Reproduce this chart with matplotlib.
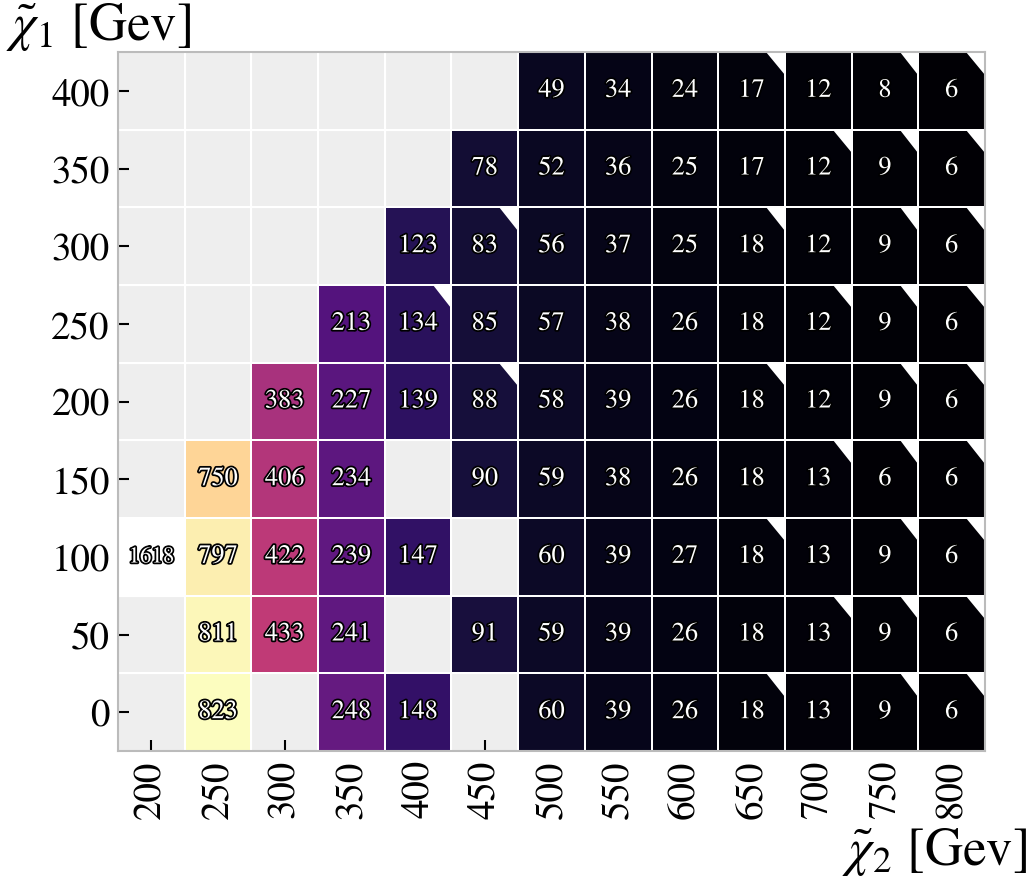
import matplotlib

matplotlib.use("Agg")
import matplotlib.pyplot as plt
import matplotlib.patheffects as pe
import numpy as np
from matplotlib.patches import Polygon

plt.rcParams["font.family"] = ["STIXGeneral", "DejaVu Serif"]
plt.rcParams["mathtext.fontset"] = "stix"

# masses (GeV)
chi2_masses = [200, 250, 300, 350, 400, 450, 500, 550, 600, 650, 700, 750, 800]
chi1_masses = [0, 50, 100, 150, 200, 250, 300, 350, 400]

N = None
# event counts, one row per chi1 mass (bottom -> top), None = no point
counts = [
    [N, 823, N, 248, 148, N, 60, 39, 26, 18, 13, 9, 6],
    [N, 811, 433, 241, N, 91, 59, 39, 26, 18, 13, 9, 6],
    [1618, 797, 422, 239, 147, N, 60, 39, 27, 18, 13, 9, 6],
    [N, 750, 406, 234, N, 90, 59, 38, 26, 18, 13, 6, 6],
    [N, N, 383, 227, 139, 88, 58, 39, 26, 18, 12, 9, 6],
    [N, N, N, 213, 134, 85, 57, 38, 26, 18, 12, 9, 6],
    [N, N, N, N, 123, 83, 56, 37, 25, 18, 12, 9, 6],
    [N, N, N, N, N, 78, 52, 36, 25, 17, 12, 9, 6],
    [N, N, N, N, N, N, 49, 34, 24, 17, 12, 8, 6],
]

# cells marked with the white corner (chi1 -> list of chi2)
flagged = {
    0: [650, 750, 800],
    50: [700, 750, 800],
    100: [650, 750, 800],
    150: [700, 750, 800],
    200: [450, 650, 750, 800],
    250: [400, 700, 750, 800],
    300: [450, 650, 750, 800],
    350: [700, 750, 800],
    400: [650, 750, 800],
}

grid = np.array([[np.nan if v is None else v for v in row] for row in counts], dtype=float)
n_rows, n_cols = grid.shape

cmap = plt.get_cmap("magma").copy()
cmap.set_over("white")
cmap.set_bad((0, 0, 0, 0))

fig = plt.figure(figsize=(10.35, 8.79), dpi=100)
ax = fig.add_axes((118 / 1035, 1 - 752 / 879, 867 / 1035, 699 / 879))
ax.set_facecolor("#eeeeee")

xe = np.arange(n_cols + 1) - 0.5
ye = np.arange(n_rows + 1) - 0.5
ax.pcolormesh(xe, ye, np.ma.masked_invalid(grid), cmap=cmap, vmin=0, vmax=823,
              edgecolors="white", linewidth=1.2, zorder=2)

# faint grid on empty cells
for x in xe[1:-1]:
    ax.axvline(x, color="white", lw=1.0, alpha=0.6, zorder=1)
for y in ye[1:-1]:
    ax.axhline(y, color="white", lw=1.0, alpha=0.6, zorder=1)

# white corner triangles
a, b = 0.28, 0.30
for i, m1 in enumerate(chi1_masses):
    for m2 in flagged.get(m1, []):
        j = chi2_masses.index(m2)
        xr, yt = j + 0.5, i + 0.5
        ax.add_patch(Polygon([(xr - a, yt), (xr, yt), (xr, yt - b)], closed=True,
                             facecolor="white", edgecolor="none", zorder=3))

stroke = [pe.withStroke(linewidth=2.5, foreground="black")]
for i in range(n_rows):
    for j in range(n_cols):
        v = grid[i, j]
        if np.isnan(v):
            continue
        fs = 16.5 if v >= 1000 else 19
        ax.text(j, i, f"{int(v)}", ha="center", va="center", fontsize=fs,
                color="white", path_effects=stroke, zorder=4)

ax.set_xlim(-0.5, n_cols - 0.5)
ax.set_ylim(-0.5, n_rows - 0.5)
ax.set_xticks(range(n_cols))
ax.set_xticklabels([str(m) for m in chi2_masses], rotation=90, fontsize=28)
ax.set_yticks(range(n_rows))
ax.set_yticklabels([str(m) for m in chi1_masses], fontsize=28)
ax.tick_params(direction="in", length=8, width=1.5, color="black", pad=6)
for s in ax.spines.values():
    s.set_color("#bbbbbb")
    s.set_linewidth(1.5)
    s.set_zorder(5)

fig.text(6 / 1035, 1 - 1 / 879, r"$\tilde{\chi}_1$ [Gev]", ha="left", va="top", fontsize=38)
fig.text(1027 / 1035, 1 / 879, r"$\tilde{\chi}_2$ [Gev]", ha="right", va="bottom", fontsize=38)

fig.savefig("out.png", dpi=100)
plt.close(fig)
